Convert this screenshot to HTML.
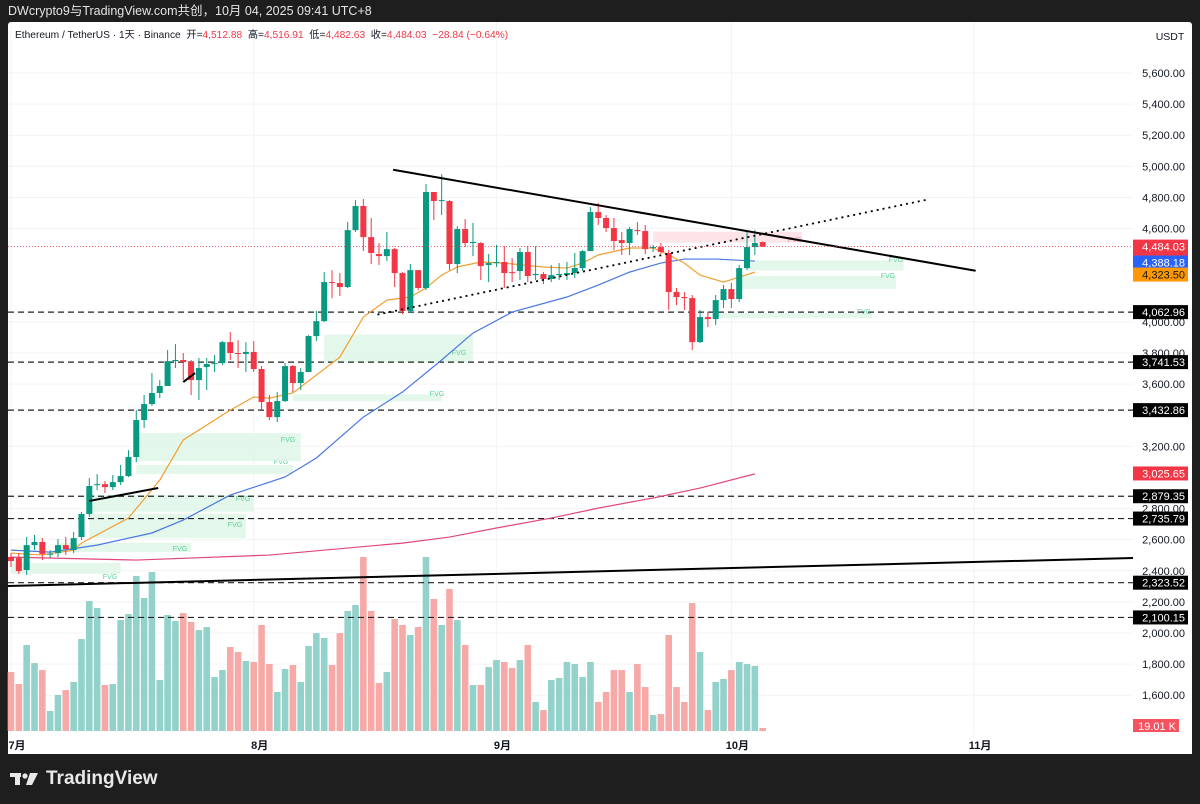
<!DOCTYPE html>
<html><head><meta charset="utf-8"><style>
body{margin:0;background:#1e1e1e;width:1200px;height:804px;overflow:hidden;font-family:"Liberation Sans","Noto Sans CJK SC",sans-serif}
#top{position:absolute;left:8px;top:0;height:22px;line-height:22px;color:#e6e6e6;font-size:12.5px}
#panel{position:absolute;left:8px;top:22px;width:1184px;height:732px;background:#fff;border-radius:3px 3px 0 0}
#logo{position:absolute;left:10px;top:768px;color:#e8e8e8;font-size:19px;font-weight:bold;display:flex;align-items:center;gap:6px}
</style></head><body>
<div id="top">DWcrypto9与TradingView.com共创，10月 04, 2025 09:41 UTC+8</div>
<div id="panel"></div>
<svg id="chart" width="1200" height="804" style="position:absolute;left:0;top:0" font-family="Liberation Sans, Noto Sans CJK SC, sans-serif"></svg>
<div id="logo"><svg width="30" height="16" viewBox="0 0 30 16"><rect x="0" y="2" width="11" height="4" fill="#e8e8e8"/><rect x="5" y="2" width="5" height="12" fill="#e8e8e8"/><circle cx="15" cy="5" r="2.6" fill="#e8e8e8"/><polygon points="20,2 28,2 22,14 16,14" fill="#e8e8e8"/></svg>TradingView</div>
<script>
const opens=[2489,2482,2405,2565,2585,2508,2514,2565,2533,2617,2765,2951,2957,2938,2970,3009,3131,3369,3472,3543,3588,3748,3755,3742,3626,3710,3729,3735,3870,3800,3794,3807,3697,3485,3388,3491,3716,3607,3678,3909,4005,4256,4250,4224,4590,4745,4545,4436,4423,4468,4314,4070,4333,4218,4835,4777,4777,4372,4597,4507,4507,4366,4378,4385,4320,4327,4449,4301,4308,4276,4301,4301,4314,4346,4455,4706,4668,4603,4526,4507,4590,4584,4475,4481,4443,4192,4160,4153,3870,4031,4018,4140,4211,4147,4346,4481,4513];
const closes=[2463,2398,2565,2585,2508,2510,2565,2540,2610,2765,2945,2957,2938,2970,3009,3131,3369,3472,3543,3588,3748,3755,3742,3626,3703,3729,3735,3870,3800,3794,3807,3697,3485,3388,3491,3716,3607,3678,3909,4005,4256,4250,4224,4590,4745,4545,4443,4423,4468,4314,4070,4333,4218,4835,4777,4783,4372,4597,4507,4514,4359,4378,4385,4314,4314,4449,4295,4308,4276,4301,4308,4314,4346,4455,4706,4668,4603,4520,4507,4597,4584,4468,4481,4449,4192,4160,4153,3870,4031,4018,4140,4211,4147,4346,4481,4507,4484];
const highs=[2514,2514,2617,2630,2610,2533,2604,2617,2649,2778,2996,3022,2977,3016,3080,3176,3433,3530,3671,3626,3819,3858,3800,3755,3768,3768,3787,3877,3935,3883,3870,3877,3716,3530,3549,3736,3723,3703,3915,4070,4320,4333,4314,4642,4783,4790,4668,4507,4578,4475,4320,4372,4333,4886,4835,4950,4783,4616,4661,4636,4514,4436,4494,4488,4410,4475,4488,4488,4320,4365,4378,4385,4443,4462,4738,4764,4687,4668,4578,4610,4642,4623,4494,4507,4462,4218,4192,4173,4076,4063,4173,4237,4250,4365,4578,4590,4517];
const lows=[2424,2379,2373,2533,2469,2482,2488,2501,2514,2598,2746,2919,2900,2919,2951,3003,3099,3318,3459,3510,3594,3703,3626,3530,3498,3562,3678,3723,3755,3703,3678,3678,3433,3369,3356,3485,3549,3562,3690,3877,3999,4153,4166,4218,4578,4456,4372,4366,4391,4224,4050,4057,4205,4205,4655,4687,4333,4314,4481,4423,4269,4256,4353,4218,4256,4269,4256,4269,4243,4256,4269,4269,4282,4327,4455,4623,4578,4462,4430,4430,4558,4436,4449,4436,4076,4108,4076,3819,3864,3967,3980,4089,4089,4128,4333,4430,4483];
const volumes=[372,296,542,428,384,126,227,258,309,580,819,775,290,296,699,737,977,838,1002,321,731,693,743,687,636,655,340,384,529,498,441,435,668,422,246,391,416,309,536,617,586,416,617,756,794,1096,756,302,372,706,668,605,655,1096,832,668,895,699,542,290,290,403,447,435,397,447,542,183,132,321,334,435,422,340,435,183,246,384,384,246,422,277,101,107,605,277,183,806,498,132,309,328,384,435,422,410,19];
const ema20Idx=[0,4,8,9,15,19,22,28,31,33,36,42,45,48,51,53,55,57,60,63,68,71,73,75,79,82,84,86,88,91,93,95];
const ema20Val=[2514,2501,2533,2578,2739,2983,3241,3433,3517,3510,3543,3774,4031,4140,4160,4218,4301,4353,4385,4378,4353,4346,4378,4430,4475,4475,4430,4378,4301,4256,4288,4320];
const ema50Idx=[0,5,11,18,22,28,35,39,45,50,55,59,64,71,75,79,83,86,90,95];
const ema50Val=[2533,2520,2565,2643,2726,2887,3003,3125,3388,3549,3755,3928,4063,4160,4237,4320,4378,4404,4404,4391];
const ma200Idx=[0,16,33,50,56,62,69,75,82,88,95];
const ma200Val=[2488,2469,2501,2578,2617,2675,2739,2803,2868,2932,3023];
const yTicks=[5600,5400,5200,5000,4800,4600,4000,3800,3600,3200,2800,2600,2400,2200,2000,1800,1600];
const hLevels=[4062.96,3741.53,3432.86,2879.35,2735.79,2323.52,2100.15];
const months=["7月","8月","9月","10月","11月"];
const monthIdx=[0,31,62,92,123];

const svg=document.getElementById('chart');const NS='http://www.w3.org/2000/svg';
const X=i=>11+i*7.83;
const Y=p=>73+(5600-p)*0.15556;
const VY=v=>731-v*0.1587;
function mk(t,a,parent){const e=document.createElementNS(NS,t);for(const k in a)e.setAttribute(k,a[k]);(parent||svg).appendChild(e);return e;}
const fmt=v=>v.toLocaleString('en-US',{minimumFractionDigits:2,maximumFractionDigits:2});
const grid=mk('g',{});
yTicks.forEach(t=>mk('line',{x1:8,x2:1133,y1:Y(t),y2:Y(t),stroke:'#f3f3f5','stroke-width':1},grid));
monthIdx.forEach(m=>mk('line',{x1:X(m),x2:X(m),y1:22,y2:735,stroke:'#f3f3f5'},grid));
const fvgX1=[0,6,10,10,16,16,36,40,90,93,94];const fvgX2=[14,23,30,31,36,37,55,59,110,113,114];
const fvgTop=[2450,2580,2765,2888,3080,3285,3535,3919,4056,4296,4395];
const fvgBot=[2380,2520,2610,2780,3022,3105,3490,3738,4024,4212,4330];
const fvgLx=[110,180,235,243,281,288,437,459,864,888,896];
const fvgLy=[579,551,527,501,464,442,396,355,314,278,262];
const fg=mk('g',{});
fvgX1.forEach((a,i)=>{const r=mk('rect',{x:X(a),y:Y(fvgTop[i]),width:X(fvgX2[i])-X(a),height:Y(fvgBot[i])-Y(fvgTop[i]),fill:'#dcf5e6',opacity:0.8},fg);

const t=mk('text',{x:fvgLx[i],y:fvgLy[i],'font-size':7,fill:'#5fd39a','text-anchor':'middle'},fg);t.textContent='FVG';});
const pr=mk('rect',{x:X(82),y:Y(4580),width:X(101)-X(82),height:Y(4510)-Y(4580),fill:'#fde5e7'});

const pt=mk('text',{x:795,y:242,'font-size':7,fill:'#f59aa3','text-anchor':'middle'});pt.textContent='FVG';
const vg=mk('g',{});
volumes.forEach((v,i)=>{const up=closes[i]>=opens[i];const r=mk('rect',{x:X(i)-3.3,y:VY(v),width:6.6,height:731-VY(v),fill:up?'#92d2cb':'#f7a9a7'},vg);
});
hLevels.forEach(l=>{const e=mk('line',{x1:8,x2:1133,y1:Y(l),y2:Y(l),stroke:'#222','stroke-width':1.2,'stroke-dasharray':'6,4'});
});
function maLine(idx,val,col,name){const d=idx.map((k,j)=>(j?'L':'M')+X(k)+','+Y(val[j])).join('');const p=mk('path',{d:d,fill:'none',stroke:col,'stroke-width':1.2});
}
maLine(ma200Idx,ma200Val,'#e0487a','ma200-line');
maLine(ema50Idx,ema50Val,'#4a78e0','ema50-line');
maLine(ema20Idx,ema20Val,'#f0a030','ema20-line');
const cg=mk('g',{});
opens.forEach((o,i)=>{const c=closes[i];const up=c>=o;const col=up?'#089981':'#f23645';
const w=mk('line',{x1:X(i),x2:X(i),y1:Y(highs[i]),y2:Y(lows[i]),stroke:col,'stroke-width':1},cg);

const t=Y(Math.max(o,c)),b=Y(Math.min(o,c));
const r=mk('rect',{x:X(i)-3,y:t,width:6,height:Math.max(1,b-t),fill:col},cg);
});
const tlX1=[48.8,46.8,-0.4,10,22];const tlP1=[4978,4047,2302,2849,3613];
const tlX2=[123.2,117.1,143.3,18.8,23.5];const tlP2=[4329,4787,2482,2932,3671];
const tlDash=['none','2,4','none','none','none'];const tlW=[2,1.8,2,2,2];
tlX1.forEach((a,i)=>{const l=mk('line',{x1:X(a),y1:Y(tlP1[i]),x2:X(tlX2[i]),y2:Y(tlP2[i]),stroke:'#000','stroke-width':tlW[i],'stroke-dasharray':tlDash[i]});
});
const cp=mk('line',{x1:8,x2:1133,y1:Y(4484.03),y2:Y(4484.03),stroke:'#f23645','stroke-width':0.8,'stroke-dasharray':'1,2'});

const ax=mk('g',{});
yTicks.forEach(t=>{const e=mk('text',{x:1185,y:Y(t)+4,'font-size':11,fill:'#131722','text-anchor':'end'},ax);e.textContent=fmt(t);});
const u=mk('text',{x:1170,y:40,'font-size':10.5,fill:'#131722','text-anchor':'middle'},ax);u.textContent='USDT';
function tag(p,txt,bg,fc,name,h,dy){const y=Y(p)+(dy||0);const r=mk('rect',{x:1133,y:y-7,width:55,height:h||14,fill:bg});
const t=mk('text',{x:1185,y:y+4,'font-size':11,fill:fc,'text-anchor':'end'});t.textContent=txt;return y;}
const cy=tag(4484.03,'4,484.03','#f23645','#fff','last-price-tag',26);
const tt=mk('text',{x:1185,y:cy+17,'font-size':11,fill:'#fff','text-anchor':'end'});tt.textContent='22:18:33';
tag(4388.18,'4,388.18','#2962ff','#fff','ema50-tag',14,1);
tag(4323.50,'4,323.50','#ff9800','#131722','ema20-tag',14,3);
hLevels.forEach(l=>tag(l,fmt(l),'#000','#fff','level-tag'));
tag(3025.65,'3,025.65','#f23645','#fff','ma200-tag');
const vt=mk('rect',{x:1133,y:719,width:46,height:13,fill:'#f7525f'});
const vtt=mk('text',{x:1176,y:730,'font-size':11,fill:'#fff','text-anchor':'end'});vtt.textContent='19.01 K';
months.forEach((m,i)=>{const t=mk('text',{x:X(monthIdx[i])+6,y:749,'font-size':11,'font-weight':'bold',fill:'#131722','text-anchor':'middle'});t.textContent=m;
});
const lg=mk('text',{x:15,y:38,'font-size':10.2,fill:'#131722'});
const parts=[['Ethereum / TetherUS · 1天 · Binance  开=','#131722'],['4,512.88','#f23645'],['  高=','#131722'],['4,516.91','#f23645'],['  低=','#131722'],['4,482.63','#f23645'],['  收=','#131722'],['4,484.03','#f23645'],['  −28.84 (−0.64%)','#f23645']];
parts.forEach(p=>{const s=mk('tspan',{fill:p[1]},lg);s.setAttribute('xml:space','preserve');s.textContent=p[0];});
lg.setAttribute('style','white-space:pre');
</script>
</body></html>
